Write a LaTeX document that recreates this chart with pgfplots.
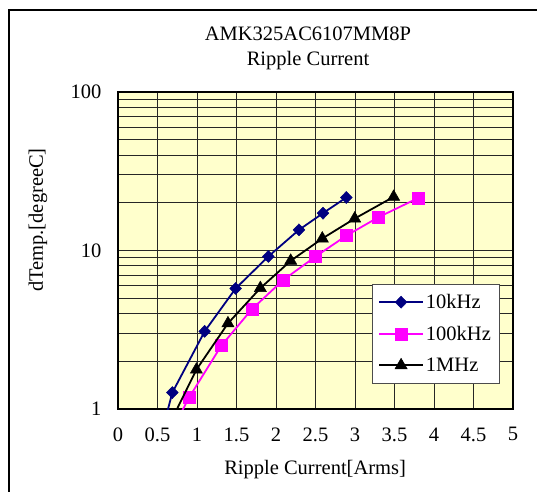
\documentclass[border=0pt]{standalone}
\usepackage{pgfplots}
\pgfplotsset{compat=1.18}
\usepackage{fontspec}
\setmainfont{Liberation Serif}
\definecolor{NAVY}{RGB}{0,0,128}
\definecolor{MAG}{RGB}{255,0,255}
\definecolor{PAPER}{RGB}{255,255,204}
\newcommand{\chartfont}{\fontsize{20.5}{25}\selectfont}

\begin{document}
\begin{tikzpicture}[x=1pt,y=1pt]
\useasboundingbox (-118,-82) rectangle (419,409);
\draw[line width=1.5pt] (-109,-120) -- (-109,399) -- (460,399);
\begin{axis}[
    at={(0,0)}, anchor=south west,
    scale only axis, width=395pt, height=317pt,
    xmin=0, xmax=5, ymin=1, ymax=100,
    ymode=log,
    log ticks with fixed point,
    xtick={0,0.5,...,5},
    ytick={1,10,100},
    xticklabels={0,0.5,1,1.5,2,2.5,3,3.5,4,4.5,5},
    axis background/.style={fill=PAPER},
    axis line style={line width=1.6pt},
    xmajorgrids, ymajorgrids, yminorgrids,
    major grid style={black!85, line width=0.8pt},
    minor grid style={black!85, line width=0.8pt},
    xtick style={draw=none},
    ytick style={draw=none},
    minor tick style={draw=none},
    tick label style={font=\chartfont},
    /pgf/number format/assume math mode=true,
    xticklabel style={yshift=-15pt},
    yticklabel style={xshift=-13pt},
    clip marker paths=true,
    title={AMK325AC6107MM8P\\Ripple Current},
    title style={font=\chartfont, align=center, at={(axis description cs:0.481,1.12)}, anchor=center},
    xlabel={Ripple Current[Arms]},
    xlabel style={font=\chartfont, at={(axis description cs:0.499,-0.192)}, anchor=center},
    ylabel={dTemp.[degreeC]},
    ylabel style={font=\chartfont, at={(axis description cs:-0.2025,0.596)}, anchor=center, rotate=0},
    legend style={at={(axis description cs:0.643,0.394)}, anchor=north west,
        draw=black!70, fill=white, font=\chartfont, row sep=12pt,
        inner xsep=6pt, inner ysep=8pt},
    legend cell align=left,
    legend image code/.code={
        \draw[#1, mark=none, line width=1.8pt] (0pt,0pt) -- (44pt,0pt);
        \draw[#1] plot coordinates {(22pt,0pt)};},
]
\addplot[NAVY, line width=1.8pt, mark=diamond*, mark size=6pt,
    mark options={fill=NAVY, line width=0.5pt, xscale=1.3}]
    coordinates {(0.5,0.56) (0.688,1.27) (1.097,3.09) (1.489,5.76) (1.903,9.17) (2.291,13.5) (2.595,17.2) (2.89,21.6)};
\addlegendentry{10kHz}
\addplot[MAG, line width=1.8pt, mark=square*, mark size=6pt,
    mark options={fill=MAG, line width=0.5pt}]
    coordinates {(0.7,0.76) (0.899,1.18) (1.308,2.51) (1.696,4.27) (2.089,6.5) (2.502,9.17) (2.89,12.4) (3.295,16.2) (3.797,21.4)};
\addlegendentry{100kHz}
\addplot[black, line width=1.8pt, mark=triangle*, mark size=7pt,
    mark options={fill=black, line width=0.5pt}]
    coordinates {(0.6,0.71) (0.992,1.77) (1.392,3.47) (1.802,5.79) (2.186,8.61) (2.586,11.9) (2.996,15.9) (3.489,21.8)};
\addlegendentry{1MHz}
\end{axis}
\end{tikzpicture}
\end{document}
